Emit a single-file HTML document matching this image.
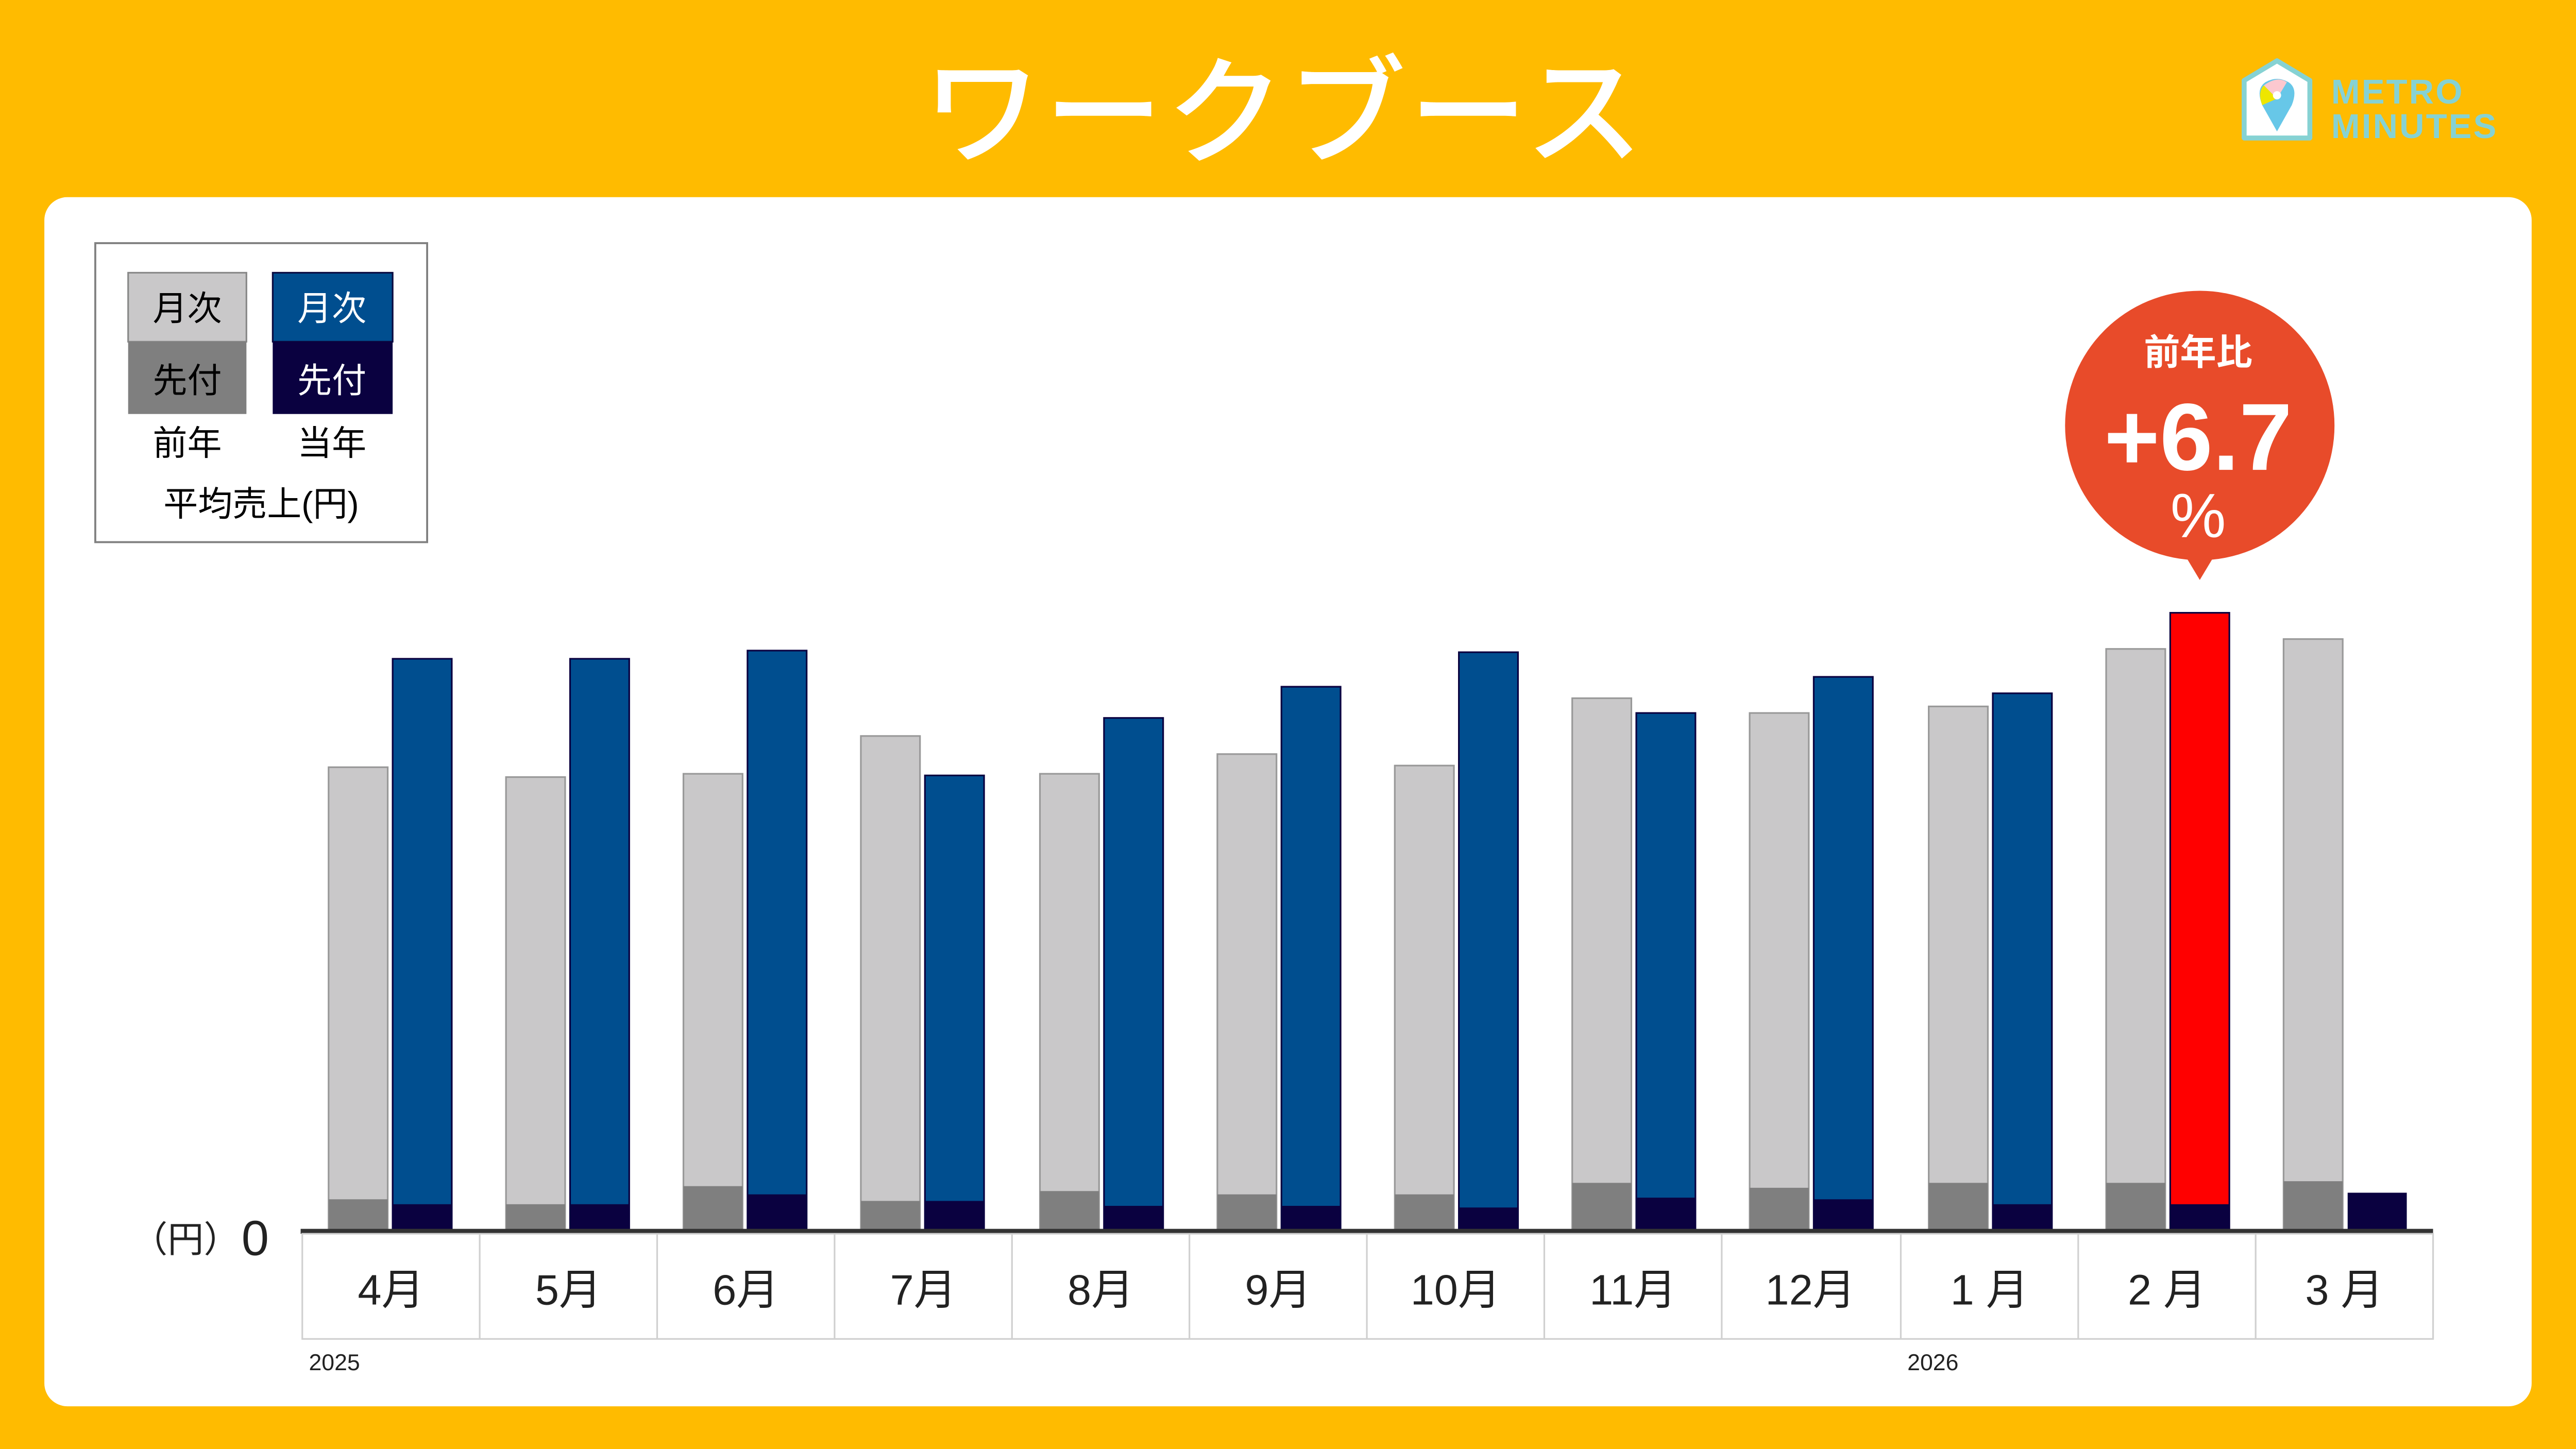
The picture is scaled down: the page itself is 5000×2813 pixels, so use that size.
<!DOCTYPE html>
<html><head><meta charset="utf-8"><style>html,body{margin:0;padding:0;background:#FFBB00}svg{display:block}text{font-family:"Liberation Sans","Noto Sans CJK JP",sans-serif}</style></head><body>
<svg width="5000" height="2813" viewBox="0 0 1568 882" preserveAspectRatio="none" xmlns="http://www.w3.org/2000/svg">
<rect width="1568" height="882" fill="#FFBB00"/>
<text x="782" y="94" font-size="72" fill="#fff" text-anchor="middle" font-weight="500" letter-spacing="2">ワークブース</text>
<!-- logo -->
<path d="M1366,49 L1386,37 L1406,49 L1406,84 L1366,84 Z" fill="#fff" stroke="#86D2D3" stroke-width="3" stroke-linejoin="round"/>
<path d="M1386,80 L1377,64 Q1373,54 1379,50 Q1386,46 1393,50 Q1399,54 1395,64 Z" fill="#67C7E8"/>
<path d="M1378,52 Q1386,46 1392,50 L1386,60 Z" fill="#FCC8CF"/>
<path d="M1377,64 Q1374,56 1378,52 L1386,60 Z" fill="#EEE600"/>
<circle cx="1386" cy="58" r="2.5" fill="#fff"/>
<text x="1419" y="63" font-size="21" fill="#86D2D3" font-weight="bold" letter-spacing="1">METRO</text>
<text x="1419" y="84" font-size="21" fill="#86D2D3" font-weight="bold" letter-spacing="1">MINUTES</text>
<rect x="27" y="120" width="1514" height="736" rx="14" fill="#fff"/>
<!-- legend -->
<rect x="58" y="148" width="202" height="182" fill="#fff" stroke="#808080" stroke-width="1.2"/>
<rect x="78" y="166" width="72" height="42" fill="#C9C8C9" stroke="#888" stroke-width="1"/>
<rect x="78" y="208" width="72" height="44" fill="#7F7F7F"/>
<rect x="166" y="166" width="73" height="42" fill="#004E8F" stroke="#0a0a40" stroke-width="1"/>
<rect x="166" y="208" width="73" height="44" fill="#0A0140"/>
<g font-size="21" text-anchor="middle">
<text x="114" y="195" fill="#000">月次</text><text x="114" y="239" fill="#000">先付</text>
<text x="202" y="195" fill="#fff">月次</text><text x="202" y="239" fill="#fff">先付</text>
<text x="114" y="277" fill="#000">前年</text><text x="202" y="277" fill="#000">当年</text>
<text x="159" y="314" fill="#000">平均売上(円)</text>
</g>
<!-- bars -->
<g id="bars" stroke-width="1">
<rect x="200" y="467" width="36" height="282" fill="#C9C8C9" stroke="#999"/><rect x="200" y="730" width="36" height="19" fill="#7F7F7F"/>
<rect x="239" y="401" width="36" height="348" fill="#004E8F" stroke="#0A0140"/><rect x="239" y="733" width="36" height="16" fill="#0A0140"/>
<rect x="308" y="473" width="36" height="276" fill="#C9C8C9" stroke="#999"/><rect x="308" y="733" width="36" height="16" fill="#7F7F7F"/>
<rect x="347" y="401" width="36" height="348" fill="#004E8F" stroke="#0A0140"/><rect x="347" y="733" width="36" height="16" fill="#0A0140"/>
<rect x="416" y="471" width="36" height="278" fill="#C9C8C9" stroke="#999"/><rect x="416" y="722" width="36" height="27" fill="#7F7F7F"/>
<rect x="455" y="396" width="36" height="353" fill="#004E8F" stroke="#0A0140"/><rect x="455" y="727" width="36" height="22" fill="#0A0140"/>
<rect x="524" y="448" width="36" height="301" fill="#C9C8C9" stroke="#999"/><rect x="524" y="731" width="36" height="18" fill="#7F7F7F"/>
<rect x="563" y="472" width="36" height="277" fill="#004E8F" stroke="#0A0140"/><rect x="563" y="731" width="36" height="18" fill="#0A0140"/>
<rect x="633" y="471" width="36" height="278" fill="#C9C8C9" stroke="#999"/><rect x="633" y="725" width="36" height="24" fill="#7F7F7F"/>
<rect x="672" y="437" width="36" height="312" fill="#004E8F" stroke="#0A0140"/><rect x="672" y="734" width="36" height="15" fill="#0A0140"/>
<rect x="741" y="459" width="36" height="290" fill="#C9C8C9" stroke="#999"/><rect x="741" y="727" width="36" height="22" fill="#7F7F7F"/>
<rect x="780" y="418" width="36" height="331" fill="#004E8F" stroke="#0A0140"/><rect x="780" y="734" width="36" height="15" fill="#0A0140"/>
<rect x="849" y="466" width="36" height="283" fill="#C9C8C9" stroke="#999"/><rect x="849" y="727" width="36" height="22" fill="#7F7F7F"/>
<rect x="888" y="397" width="36" height="352" fill="#004E8F" stroke="#0A0140"/><rect x="888" y="735" width="36" height="14" fill="#0A0140"/>
<rect x="957" y="425" width="36" height="324" fill="#C9C8C9" stroke="#999"/><rect x="957" y="720" width="36" height="29" fill="#7F7F7F"/>
<rect x="996" y="434" width="36" height="315" fill="#004E8F" stroke="#0A0140"/><rect x="996" y="729" width="36" height="20" fill="#0A0140"/>
<rect x="1065" y="434" width="36" height="315" fill="#C9C8C9" stroke="#999"/><rect x="1065" y="723" width="36" height="26" fill="#7F7F7F"/>
<rect x="1104" y="412" width="36" height="337" fill="#004E8F" stroke="#0A0140"/><rect x="1104" y="730" width="36" height="19" fill="#0A0140"/>
<rect x="1174" y="430" width="36" height="319" fill="#C9C8C9" stroke="#999"/><rect x="1174" y="720" width="36" height="29" fill="#7F7F7F"/>
<rect x="1213" y="422" width="36" height="327" fill="#004E8F" stroke="#0A0140"/><rect x="1213" y="733" width="36" height="16" fill="#0A0140"/>
<rect x="1282" y="395" width="36" height="354" fill="#C9C8C9" stroke="#999"/><rect x="1282" y="720" width="36" height="29" fill="#7F7F7F"/>
<rect x="1321" y="373" width="36" height="376" fill="#FF0000" stroke="#0A0140"/><rect x="1321" y="733" width="36" height="16" fill="#0A0140"/>
<rect x="1390" y="389" width="36" height="360" fill="#C9C8C9" stroke="#999"/><rect x="1390" y="719" width="36" height="30" fill="#7F7F7F"/>
<rect x="1429" y="726" width="36" height="23" fill="#0A0140"/>
</g>
<line x1="183" y1="749.5" x2="1481" y2="749.5" stroke="#333" stroke-width="3"/>
<!-- category cells -->
<g stroke="#d0d0d0" stroke-width="1" fill="none">
<rect x="184" y="751" width="1297" height="64"/>
<path d="M292,751V815M400,751V815M508,751V815M616,751V815M724,751V815M832,751V815M940,751V815M1048,751V815M1157,751V815M1265,751V815M1373,751V815"/>
</g>
<g font-size="26" text-anchor="middle" fill="#222">
<text x="238" y="794">4月</text><text x="346" y="794">5月</text><text x="454" y="794">6月</text><text x="562" y="794">7月</text><text x="670" y="794">8月</text><text x="778" y="794">9月</text><text x="886" y="794">10月</text><text x="994" y="794">11月</text><text x="1102" y="794">12月</text><text x="1211" y="794">1 月</text><text x="1319" y="794">2 月</text><text x="1427" y="794">3 月</text>
</g>
<text x="188" y="834" font-size="14" fill="#222">2025</text>
<text x="1161" y="834" font-size="14" fill="#222">2026</text>
<text x="80" y="762" font-size="22" fill="#222">（円）</text>
<text x="147" y="764" font-size="30" fill="#222">0</text>
<!-- bubble -->
<circle cx="1339" cy="259" r="82" fill="#E84B2A"/>
<path d="M1330,338 L1339,353 L1348,338 Z" fill="#E84B2A"/>
<text x="1338" y="222" font-size="22" fill="#fff" text-anchor="middle" font-weight="bold">前年比</text>
<text x="1338" y="286" font-size="58" fill="#fff" text-anchor="middle" font-weight="bold">+6.7</text>
<text x="1338" y="327" font-size="38" fill="#fff" text-anchor="middle">%</text>
</svg>
</body></html>
